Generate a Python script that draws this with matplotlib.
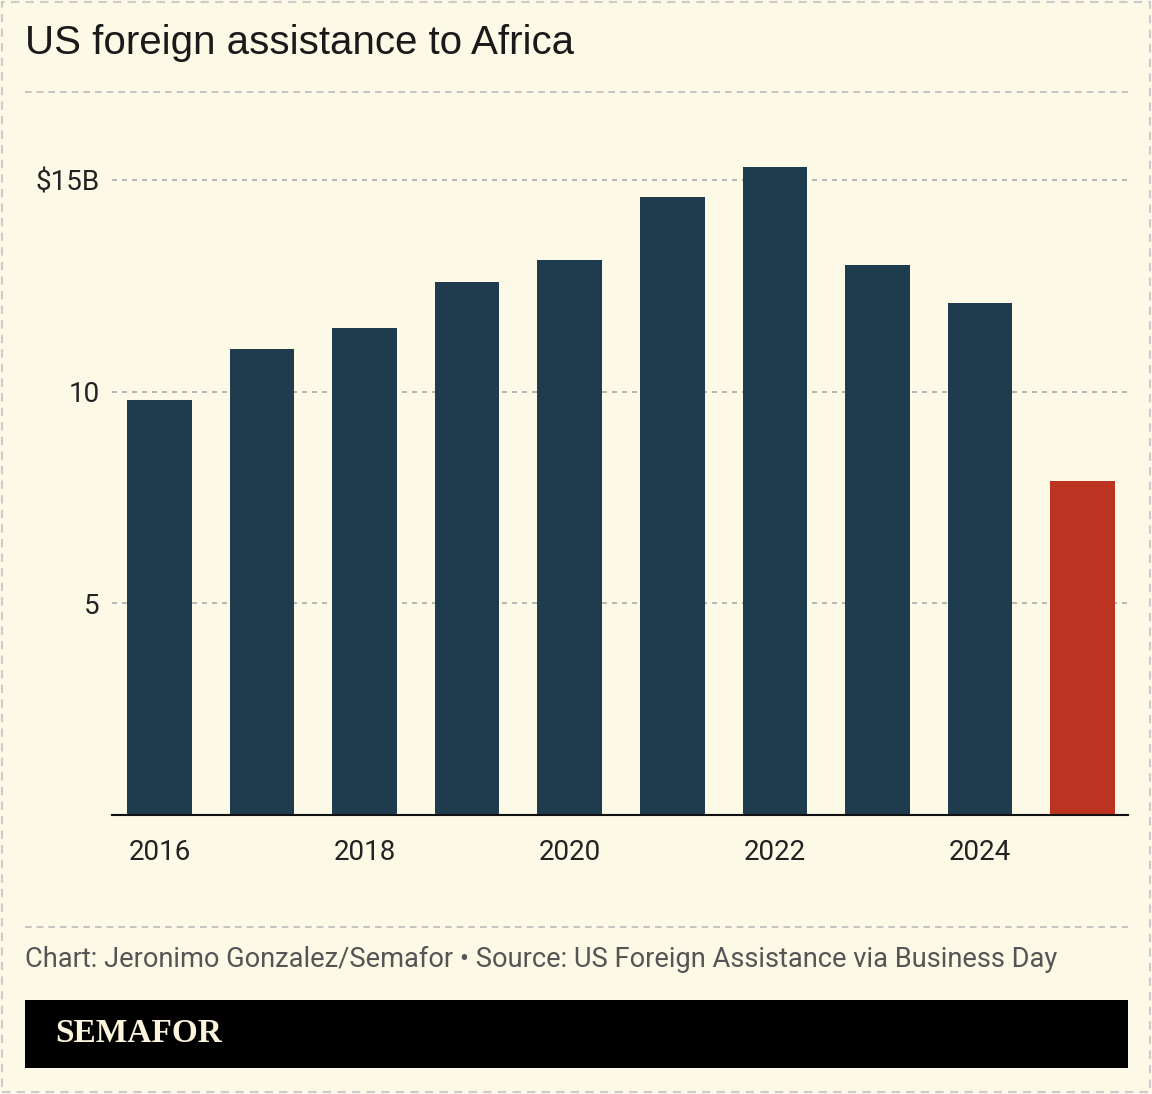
import matplotlib.pyplot as plt
from matplotlib.patches import Rectangle

years = [2016, 2017, 2018, 2019, 2020, 2021, 2022, 2023, 2024, 2025]
assistance = [9.8, 11.0, 11.5, 12.6, 13.1, 14.6, 15.3, 13.0, 12.1, 7.9]  # $B
bar_colors = ['#1e3c4d'] * 9 + ['#bc3421']
year_ticks = [2016, 2018, 2020, 2022, 2024]
y_ticks = [5, 10, 15]
y_labels = ['5', '10', '$15B']

bg = '#fcf9e6'
W, H = 1152, 1094

fig = plt.figure(figsize=(W / 100, H / 100), dpi=100, facecolor=bg)

# axes placed in pixel terms
ax = fig.add_axes([112 / W, 1 - 815 / H, (1128 - 112) / W, (815 - 137.7) / H])
ax.set_facecolor(bg)
ax.bar(years, assistance, width=0.63, color=bar_colors, zorder=3)
ax.set_xlim(2016 - 0.463, 2025 + 0.444)
ax.set_ylim(0, 16)

ax.set_yticks(y_ticks)
ax.set_yticklabels(y_labels)
ax.set_xticks(year_ticks)
ax.set_xticklabels([str(y) for y in year_ticks])
ax.tick_params(length=0, labelsize=20, colors='#222222')
ax.tick_params(axis='y', pad=9)
ax.tick_params(axis='x', pad=17)
for lab in ax.get_xticklabels() + ax.get_yticklabels():
    lab.set_family('Roboto')

ax.grid(axis='y', color='#aaaaaa', linestyle=(0, (3, 3)), linewidth=1.2, zorder=0)
for s in ['top', 'right', 'left']:
    ax.spines[s].set_visible(False)
ax.spines['bottom'].set_color('#111111')
ax.spines['bottom'].set_linewidth(1.5)
ax.spines['bottom'].set_zorder(4)

# title and separators
fig.text(25 / W, 1 - 43 / H, 'US foreign assistance to Africa', fontsize=29,
         family='Liberation Sans', color='#1a1a1a', va='center', ha='left')
for yy in [92, 927]:
    fig.add_artist(plt.Line2D([25 / W, 1128 / W], [1 - yy / H, 1 - yy / H],
                              color='#bbbbbb', linestyle=(0, (4, 3)), linewidth=1.2))

fig.text(25 / W, 1 - 959 / H,
         'Chart: Jeronimo Gonzalez/Semafor \u2022 Source: US Foreign Assistance via Business Day',
         fontsize=19.6, family='Roboto', color='#555555', va='center', ha='left')

# footer banner
fig.add_artist(Rectangle((25 / W, 1 - 1068 / H), (1128 - 25) / W, 68 / H,
                         transform=fig.transFigure, facecolor='black', edgecolor='none'))
fig.text(55 / W, 1 - 1034 / H, 'SEMAFOR', fontsize=24, family='Liberation Serif',
         weight='bold', color='#fcf5dc', va='center', ha='left')

# outer dashed border
fig.add_artist(Rectangle((2 / W, 2 / H), (W - 4) / W, (H - 4) / H, transform=fig.transFigure,
                         facecolor='none', edgecolor='#cccccc', linestyle=(0, (4, 3)),
                         linewidth=1.5))

fig.savefig('out.png', dpi=100, facecolor=bg)
